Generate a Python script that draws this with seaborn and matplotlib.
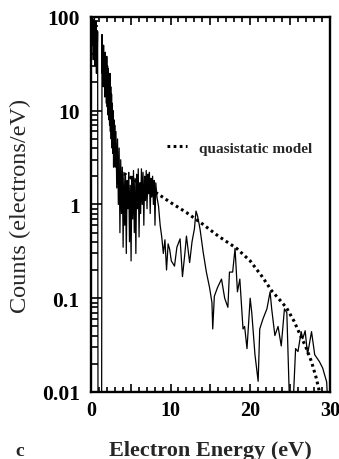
import matplotlib
matplotlib.use("Agg")
import matplotlib.pyplot as plt
import matplotlib.ticker as mticker
import numpy as np
import pandas as pd
import seaborn as sns

# Measured electron spectrum (energy in eV, counts in electrons/eV)
energy = [
    0.10, 0.15, 0.20, 0.25, 0.30, 0.35, 0.40, 0.45, 0.50, 0.55,
    0.60, 0.65, 0.70, 0.75, 0.80, 0.85, 0.90, 1.35, 1.40, 1.45,
    1.50, 1.55, 1.60, 1.65, 1.70, 1.75, 1.80, 1.85, 1.90, 1.95,
    2.00, 2.05, 2.10, 2.15, 2.20, 2.25, 2.30, 2.35, 2.40, 2.45,
    2.50, 2.55, 2.60, 2.65, 2.70, 2.75, 2.80, 2.85, 2.90, 2.95,
    3.00, 3.05, 3.15, 3.25,
    3.35, 3.45, 3.55, 3.65, 3.75, 3.85, 3.95, 4.05, 4.15, 4.25,
    4.35, 4.45, 4.55, 4.65, 4.75, 4.85, 4.95, 5.05, 5.15, 5.25,
    5.35, 5.45, 5.55, 5.65, 5.75, 5.85, 5.95, 6.05, 6.15, 6.25,
    6.35, 6.45, 6.55, 6.65, 6.75, 6.85, 6.95, 7.05, 7.15, 7.25,
    7.35, 7.45, 7.55, 7.65, 7.75, 7.85, 7.95, 8.05, 8.15, 8.3,
    8.5, 8.7, 8.9, 9.1, 9.3, 9.5, 9.7, 9.9, 10.1, 10.5,
    10.8, 11.2, 11.5, 11.8, 12.0, 12.4, 12.7, 13.0, 13.2, 13.4,
    13.7, 14.1, 14.5, 14.9, 15.2, 15.3, 15.5, 15.9, 16.4, 16.8,
    17.2, 17.4, 17.8, 18.1, 18.4, 18.7, 19.1, 19.3, 19.6, 20.0,
    20.2, 20.6, 21.0, 21.2, 21.6, 22.1, 22.5, 22.7, 23.1, 23.5,
    23.9, 24.3, 24.6, 25.0, 25.3, 25.7, 26.0, 26.4, 26.6, 26.9,
    27.2, 27.7, 28.1, 28.7, 29.1, 29.6, 29.9,
]
counts = [
    80, 100, 50, 95, 35, 85, 45, 100, 30, 75,
    40, 90, 25, 60, 35, 70, 0.003, 0.003, 65, 25,
    45, 18, 50, 20, 38, 14, 42, 16, 35, 12,
    38, 11, 30, 9, 28, 8, 22, 7, 25, 6,
    18, 5, 15, 4, 12, 3.5, 10, 2.5, 8, 3,
    7, 2.5, 6, 1.5,
    5, 1.0, 4, 0.5, 3, 0.8, 2.5, 0.35, 2.2, 0.6,
    2.0, 0.3, 1.8, 0.9, 2.2, 0.4, 1.6, 0.25, 2.0, 0.7,
    2.3, 0.5, 1.9, 0.3, 2.1, 0.9, 2.4, 0.45, 1.7, 0.8,
    2.4, 1.0, 2.2, 0.6, 2.0, 1.1, 2.3, 0.9, 2.1, 1.3,
    2.2, 0.8, 1.9, 1.2, 2.0, 1.0, 1.8, 0.6, 1.7, 1.2,
    0.95, 0.6, 0.45, 0.3, 0.42, 0.2, 0.38, 0.33, 0.25, 0.22,
    0.35, 0.43, 0.17, 0.3, 0.46, 0.24, 0.4, 0.55, 0.85, 0.75,
    0.55, 0.31, 0.19, 0.13, 0.09, 0.047, 0.105, 0.13, 0.16, 0.1,
    0.08, 0.19, 0.19, 0.34, 0.117, 0.16, 0.047, 0.05, 0.029, 0.1,
    0.07, 0.025, 0.013, 0.047, 0.06, 0.077, 0.117, 0.077, 0.04, 0.05,
    0.031, 0.077, 0.07, 0.005, 0.005, 0.029, 0.027, 0.044, 0.037, 0.045,
    0.025, 0.044, 0.025, 0.021, 0.018, 0.0128, 0.004,
]

# Quasistatic model curve
model_energy = [3.5, 4.3, 6.0, 8.4, 10.0, 12.0, 14.0, 16.0, 18.3, 20.0,
                21.5, 22.7, 24.0, 24.6, 25.5, 26.2, 27.0, 27.7, 28.3, 28.7, 29.0]
model_counts = [2.3, 2.1, 1.7, 1.3, 1.05, 0.82, 0.62, 0.46, 0.34, 0.25,
                0.17, 0.12, 0.09, 0.078, 0.057, 0.042, 0.03, 0.021, 0.014, 0.01, 0.007]

x_ticks = [0, 10, 20, 30]
y_ticks = [0.01, 0.1, 1, 10, 100]
y_ticklabels = ["0.01", "0.1", "1", "10", "100"]

sns.set_style("ticks")
plt.rcParams["font.family"] = ["Liberation Serif", "DejaVu Serif"]

fig = plt.figure(figsize=(3.39, 4.60), dpi=100)
ax = fig.add_axes([0.268, 0.1457, 0.705, 0.8153])

spec = pd.DataFrame({"energy": energy, "counts": counts})
model = pd.DataFrame({"energy": model_energy, "counts": model_counts})

sns.lineplot(data=spec, x="energy", y="counts", ax=ax, color="black",
             linewidth=0.9, estimator=None, sort=False)
sns.lineplot(data=model, x="energy", y="counts", ax=ax, color="black",
             linewidth=2.2, linestyle=(0, (0.9, 1.1)), estimator=None,
             sort=False, label="quasistatic model")

ax.set_yscale("log")
ax.set_xlim(0, 30)
ax.set_ylim(0.01, 100)

ax.xaxis.set_major_locator(mticker.MultipleLocator(5))
ax.xaxis.set_minor_locator(mticker.MultipleLocator(1))
ax.xaxis.set_major_formatter(mticker.FuncFormatter(
    lambda v, p: f"{int(round(v))}" if int(round(v)) in x_ticks else ""))
ax.yaxis.set_major_locator(mticker.FixedLocator(y_ticks))
ax.yaxis.set_major_formatter(mticker.FixedFormatter(y_ticklabels))
ax.yaxis.set_minor_locator(mticker.LogLocator(base=10, subs=np.arange(2, 10)))
ax.yaxis.set_minor_formatter(mticker.NullFormatter())

ax.tick_params(axis="both", which="both", direction="in",
               top=True, right=False, width=1.2, colors="black")
ax.tick_params(axis="y", which="major", length=8, labelsize=15.5, pad=8)
ax.tick_params(axis="y", which="minor", length=5)
ax.tick_params(axis="x", which="major", length=6, labelsize=14.5, pad=6)
ax.tick_params(axis="x", which="minor", length=3.5)
for lab in ax.get_xticklabels() + ax.get_yticklabels():
    lab.set_fontweight("bold")

for s in ax.spines.values():
    s.set_linewidth(1.7)
    s.set_color("black")

ax.set_xlabel("Electron Energy (eV)", fontsize=16, fontweight="bold", labelpad=14)
ax.set_ylabel("Counts (electrons/eV)", fontsize=17.5, fontweight="normal", labelpad=8)

leg = ax.legend(loc="center left", bbox_to_anchor=(0.318, 0.651),
                frameon=False, handlelength=1.3,
                handletextpad=0.8, borderpad=0, borderaxespad=0,
                prop={"weight": "bold", "size": 11})

fig.text(15 / 339, 1 - 452 / 460, "c", fontsize=14, fontweight="bold",
         va="center", ha="left")

fig.savefig("out.png", dpi=100)
